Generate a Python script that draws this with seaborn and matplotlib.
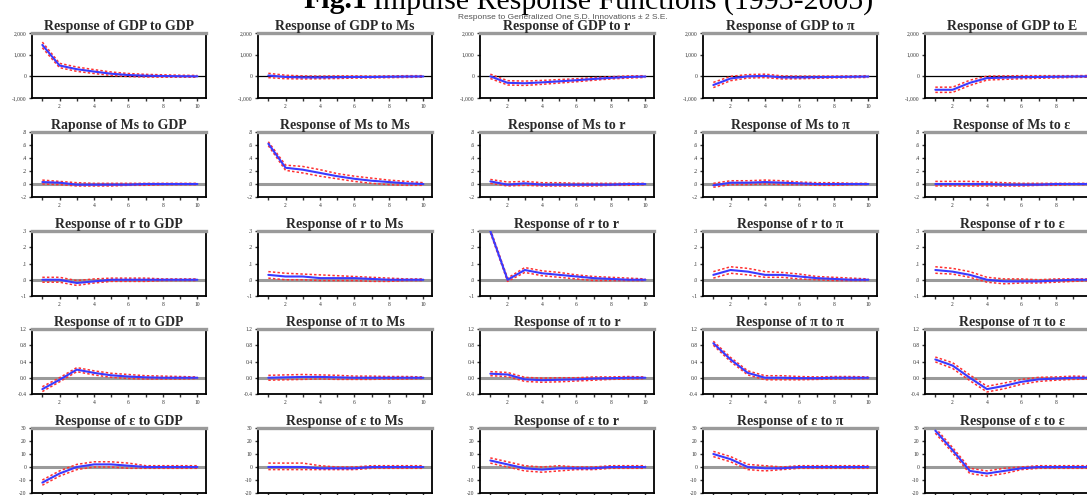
import matplotlib
matplotlib.use("Agg")
import matplotlib.pyplot as plt
import numpy as np
import pandas as pd
import seaborn as sns

sns.set_style("ticks")
plt.rcParams['font.family'] = ['Liberation Serif', 'DejaVu Serif']

PERIODS = [1, 2, 3, 4, 5, 6, 7, 8, 9, 10]

TITLES = [
    ["Response of GDP to GDP", "Response of GDP to Ms", "Response of GDP to r", "Response of GDP to \u03c0", "Response of GDP to E"],
    ["Raponse of Ms to GDP", "Response of Ms to Ms", "Response of Ms to r", "Response of Ms to \u03c0", "Response of Ms to \u03b5"],
    ["Response of r to GDP", "Response of r to Ms", "Response of r to r", "Response of r to \u03c0", "Response of r to \u03b5"],
    ["Response of \u03c0 to GDP", "Response of \u03c0 to Ms", "Response of \u03c0 to r", "Response of \u03c0 to \u03c0", "Response of \u03c0 to \u03b5"],
    ["Response of \u03b5 to GDP", "Response of \u03b5 to Ms", "Response of \u03b5 to r", "Response of \u03b5 to \u03c0", "Response of \u03b5 to \u03b5"],
]

# ---- Response of GDP ----
GDP_RESP = [
    [1450, 500, 330, 220, 120, 60, 30, 15, 5, 0],
    [40, -30, -50, -50, -40, -30, -30, -20, -10, -5],
    [0, -300, -320, -280, -230, -180, -120, -70, -30, -10],
    [-400, -100, 0, 20, -50, -50, -40, -30, -20, -10],
    [-620, -620, -300, -80, -60, -40, -30, -20, -10, 0],
]
GDP_LO = [
    [1320, 400, 230, 130, 40, -10, -30, -40, -40, -40],
    [-60, -110, -120, -110, -100, -80, -70, -60, -50, -40],
    [-100, -400, -420, -370, -310, -250, -180, -120, -80, -50],
    [-520, -200, -80, -60, -120, -110, -90, -70, -60, -50],
    [-740, -740, -420, -170, -140, -110, -90, -70, -50, -40],
]
GDP_HI = [
    [1580, 600, 430, 310, 200, 130, 90, 70, 50, 40],
    [140, 50, 20, 10, 20, 20, 10, 20, 30, 30],
    [100, -200, -220, -190, -150, -110, -60, -20, 20, 30],
    [-280, 0, 80, 100, 20, 10, 10, 10, 20, 30],
    [-500, -500, -180, 10, 20, 30, 30, 30, 30, 40],
]

# ---- Response of Ms ----
MS_RESP = [
    [0.03, 0.02, -0.01, -0.01, -0.01, -0.01, 0.0, 0.0, 0.0, 0.0],
    [0.62, 0.25, 0.22, 0.17, 0.12, 0.08, 0.05, 0.03, 0.01, 0.0],
    [0.04, -0.01, 0.01, -0.01, -0.01, -0.01, -0.01, -0.01, 0.0, 0.0],
    [-0.02, 0.02, 0.02, 0.03, 0.02, 0.01, 0.0, 0.0, 0.0, 0.0],
    [0.0, 0.0, 0.0, 0.0, -0.01, -0.01, -0.01, 0.0, 0.0, 0.0],
]
MS_LO = [
    [0.0, -0.01, -0.03, -0.03, -0.03, -0.02, -0.02, -0.01, -0.01, -0.01],
    [0.59, 0.21, 0.17, 0.12, 0.08, 0.04, 0.01, -0.01, -0.02, -0.02],
    [0.01, -0.03, -0.02, -0.03, -0.03, -0.03, -0.03, -0.02, -0.02, -0.01],
    [-0.05, -0.01, -0.01, 0.0, -0.01, -0.01, -0.02, -0.02, -0.01, -0.01],
    [-0.03, -0.03, -0.03, -0.03, -0.03, -0.03, -0.02, -0.02, -0.01, -0.01],
]
MS_HI = [
    [0.06, 0.04, 0.02, 0.01, 0.01, 0.01, 0.01, 0.01, 0.01, 0.01],
    [0.65, 0.29, 0.27, 0.22, 0.16, 0.12, 0.09, 0.06, 0.04, 0.02],
    [0.07, 0.03, 0.04, 0.02, 0.02, 0.01, 0.01, 0.01, 0.01, 0.01],
    [0.01, 0.05, 0.05, 0.06, 0.05, 0.03, 0.02, 0.02, 0.01, 0.01],
    [0.04, 0.04, 0.04, 0.03, 0.02, 0.01, 0.01, 0.01, 0.01, 0.01],
]

# ---- Response of r ----
R_RESP = [
    [0.0, 0.0, -0.02, -0.01, 0.0, 0.0, 0.0, 0.0, 0.0, 0.0],
    [0.03, 0.02, 0.02, 0.01, 0.01, 0.01, 0.005, 0.0, 0.0, 0.0],
    [0.30, 0.0, 0.06, 0.04, 0.03, 0.02, 0.01, 0.005, 0.0, 0.0],
    [0.03, 0.06, 0.05, 0.03, 0.03, 0.02, 0.01, 0.005, 0.0, 0.0],
    [0.06, 0.05, 0.03, 0.0, -0.01, -0.01, -0.01, -0.005, 0.0, 0.0],
]
R_LO = [
    [-0.015, -0.015, -0.035, -0.02, -0.01, -0.01, -0.01, -0.005, -0.005, -0.005],
    [0.01, 0.0, 0.0, -0.005, -0.005, -0.005, -0.01, -0.01, -0.005, -0.005],
    [0.29, -0.01, 0.045, 0.025, 0.015, 0.005, -0.005, -0.005, -0.005, -0.005],
    [0.01, 0.04, 0.03, 0.015, 0.015, 0.005, 0.0, -0.005, -0.005, -0.005],
    [0.04, 0.035, 0.015, -0.015, -0.025, -0.02, -0.02, -0.015, -0.01, -0.005],
]
R_HI = [
    [0.015, 0.015, -0.005, 0.005, 0.01, 0.01, 0.01, 0.005, 0.005, 0.005],
    [0.05, 0.04, 0.035, 0.03, 0.025, 0.02, 0.015, 0.01, 0.005, 0.005],
    [0.31, 0.01, 0.075, 0.055, 0.045, 0.03, 0.02, 0.015, 0.01, 0.005],
    [0.05, 0.08, 0.07, 0.05, 0.045, 0.035, 0.02, 0.015, 0.01, 0.005],
    [0.08, 0.07, 0.05, 0.015, 0.005, 0.005, 0.0, 0.005, 0.005, 0.005],
]

# ---- Response of pi ----
PI_RESP = [
    [-0.28, -0.05, 0.2, 0.12, 0.06, 0.03, 0.01, 0.0, 0.0, 0.0],
    [0.0, 0.01, 0.02, 0.02, 0.01, 0.0, 0.0, 0.0, 0.0, 0.0],
    [0.1, 0.08, -0.04, -0.06, -0.05, -0.04, -0.02, -0.01, 0.0, 0.0],
    [0.85, 0.45, 0.12, 0.0, 0.0, -0.01, -0.01, 0.0, 0.0, 0.0],
    [0.45, 0.3, 0.0, -0.28, -0.2, -0.1, -0.04, -0.02, 0.0, 0.0],
]
PI_LO = [
    [-0.34, -0.1, 0.15, 0.07, 0.01, -0.02, -0.03, -0.03, -0.03, -0.02],
    [-0.06, -0.05, -0.04, -0.03, -0.04, -0.04, -0.04, -0.03, -0.03, -0.02],
    [0.05, 0.03, -0.09, -0.11, -0.1, -0.08, -0.06, -0.04, -0.03, -0.02],
    [0.8, 0.4, 0.07, -0.05, -0.05, -0.05, -0.04, -0.03, -0.03, -0.02],
    [0.39, 0.23, -0.07, -0.35, -0.27, -0.16, -0.09, -0.06, -0.04, -0.03],
]
PI_HI = [
    [-0.22, 0.0, 0.25, 0.17, 0.11, 0.08, 0.05, 0.04, 0.03, 0.02],
    [0.06, 0.07, 0.08, 0.07, 0.06, 0.04, 0.04, 0.03, 0.03, 0.02],
    [0.15, 0.13, 0.01, -0.01, 0.0, 0.0, 0.02, 0.02, 0.03, 0.02],
    [0.9, 0.5, 0.17, 0.05, 0.05, 0.03, 0.02, 0.03, 0.03, 0.02],
    [0.51, 0.37, 0.07, -0.21, -0.13, -0.04, 0.01, 0.02, 0.04, 0.03],
]

# ---- Response of epsilon ----
EPS_RESP = [
    [-12, -5, 0, 2, 2, 1, 0, 0, 0, 0],
    [0, 0, 0, -1, -1, -1, 0, 0, 0, 0],
    [5, 2, -1, -2, -1, -1, -1, 0, 0, 0],
    [10, 6, 0, -1, -1, 0, 0, 0, 0, 0],
    [28, 13, -3, -5, -3, -1, 0, 0, 0, 0],
]
EPS_LO = [
    [-14, -7, -2, 0, 0, -1, -1, -1, -1, -1],
    [-2, -2, -2, -2, -2, -2, -1, -1, -1, -1],
    [3, 0, -3, -4, -3, -2, -2, -1, -1, -1],
    [8, 4, -2, -3, -2, -1, -1, -1, -1, -1],
    [26, 11, -5, -7, -5, -2, -1, -1, -1, -1],
]
EPS_HI = [
    [-10, -3, 2, 4, 4, 3, 1, 1, 1, 1],
    [3, 3, 3, 1, 0, 0, 1, 1, 1, 1],
    [7, 4, 1, 0, 1, 0, 0, 1, 1, 1],
    [12, 8, 2, 1, 0, 1, 1, 1, 1, 1],
    [30, 15, -1, -3, -1, 0, 1, 1, 1, 1],
]

ROWS = [
    (GDP_RESP, GDP_LO, GDP_HI),
    (MS_RESP, MS_LO, MS_HI),
    (R_RESP, R_LO, R_HI),
    (PI_RESP, PI_LO, PI_HI),
    (EPS_RESP, EPS_LO, EPS_HI),
]

Y_TICKS = [
    [-1000, 0, 1000, 2000],
    [-0.2, 0.0, 0.2, 0.4, 0.6, 0.8],
    [-0.1, 0.0, 0.1, 0.2, 0.3],
    [-0.4, 0.0, 0.4, 0.8, 1.2],
    [-20, -10, 0, 10, 20, 30],
]
Y_LABELS = [
    ["-1,000", "0", "1,000", "2,000"],
    ["-.2", ".0", ".2", ".4", ".6", ".8"],
    ["-.1", ".0", ".1", ".2", ".3"],
    ["-0.4", "0.0", "0.4", "0.8", "1.2"],
    ["-20", "-10", "0", "10", "20", "30"],
]
X_LABELS = ["", "2", "", "4", "", "6", "", "8", "", "10"]

# ---- layout (pixels) ----
W, H = 1087, 495
COL_LEFT = [32, 258, 480, 703, 925]
ROW_TOP = [33, 132, 231, 329, 428]
AX_W, AX_H = 174, 65

fig = plt.figure(figsize=(W / 100, H / 100), dpi=100)
fig.patch.set_facecolor("white")

BLUE = "#3a3aff"
RED = "#ff3030"

for ri, (resp_rows, lo_rows, hi_rows) in enumerate(ROWS):
    for ci in range(5):
        ax = fig.add_axes([COL_LEFT[ci] / W, 1 - (ROW_TOP[ri] + AX_H) / H, AX_W / W, AX_H / H])
        df = pd.DataFrame({
            "period": PERIODS * 3,
            "value": list(resp_rows[ci]) + list(lo_rows[ci]) + list(hi_rows[ci]),
            "series": ["resp"] * 10 + ["lo"] * 10 + ["hi"] * 10,
        })
        if ri == 0:
            ax.axhline(0, color="black", lw=0.9, zorder=1)
        else:
            ax.axhline(0, color="#9a9a9a", lw=2.2, zorder=1)
        sns.lineplot(data=df[df.series != "resp"], x="period", y="value", units="series",
                     estimator=None, color=RED, lw=1.1, ax=ax, zorder=2,
                     linestyle=(0, (1.6, 1.4)))
        sns.lineplot(data=df[df.series == "resp"], x="period", y="value",
                     color=BLUE, lw=1.5, ax=ax, zorder=3)
        ax.set_xlim(0.4, 10.5)
        ticks = Y_TICKS[ri]
        ax.set_ylim(ticks[0], ticks[-1])
        ax.set_yticks(ticks)
        ax.set_yticklabels(Y_LABELS[ri])
        ax.set_xticks(PERIODS)
        xl = list(X_LABELS)
        if ci == 4:
            xl[-1] = ""          # falls beyond the right edge in the reference
        if ri == 4:
            xl = [""] * 10       # bottom row's labels are cropped away
        ax.set_xticklabels(xl)
        ax.set_xlabel("")
        ax.set_ylabel("")
        ax.tick_params(axis="both", direction="out", length=2.5, width=1.0,
                       labelsize=4, pad=1.5, colors="#333333")
        for side in ["left", "right", "bottom"]:
            ax.spines[side].set_visible(True)
            ax.spines[side].set_color("black")
            ax.spines[side].set_linewidth(1.3)
        ax.spines["top"].set_visible(True)
        ax.spines["top"].set_color("#9a9a9a")
        ax.spines["top"].set_linewidth(2.4)
        ax.set_title(TITLES[ri][ci], fontsize=10, fontweight="bold",
                     color="#2a2a2a", pad=2.5)

# main title: bold "Fig.1" followed by regular text (top is cropped in the reference)
t1 = fig.text(303 / W, 1 - 8.5 / H, "Fig.1", fontsize=21.5, fontweight="bold",
              ha="left", va="baseline", color="black")
fig.canvas.draw()
bb = t1.get_window_extent(renderer=fig.canvas.get_renderer())
fig.text(bb.x1 / W + 6 / W, 1 - 8.5 / H, "Impulse Response Functions (1993-2005)",
         fontsize=21.5, ha="left", va="baseline", color="black")
fig.text(563 / W, 1 - 17.5 / H, "Response to Generalized One S.D. Innovations \u00b1 2 S.E.",
         fontsize=6, ha="center", va="center", color="#555555",
         family=["Liberation Sans", "DejaVu Sans"])

fig.savefig("out.png", dpi=100, facecolor="white")
